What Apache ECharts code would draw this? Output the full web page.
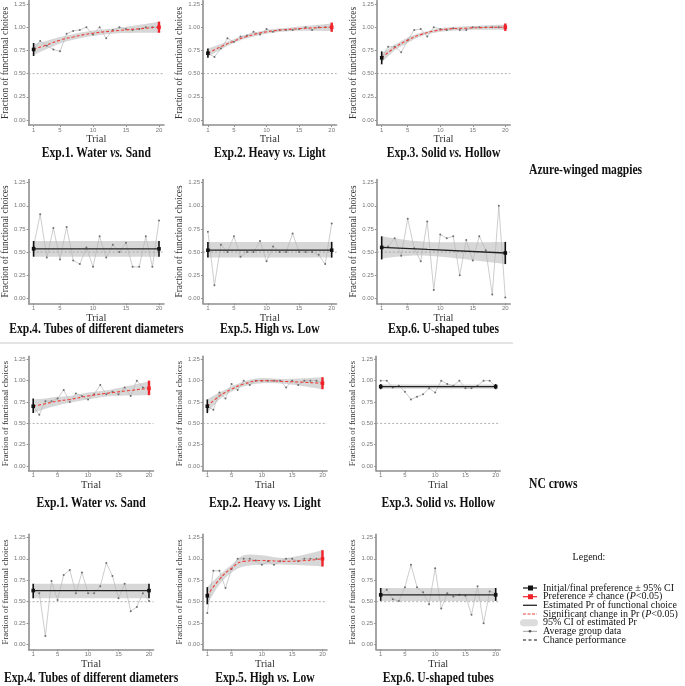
<!DOCTYPE html>
<html><head><meta charset="utf-8">
<script src="https://cdn.jsdelivr.net/npm/echarts@6/dist/echarts.min.js"></script>
<style>html,body{margin:0;padding:0;background:#fff}#c{width:685px;height:686px}</style>
</head><body><div id="c"></div>
<script>
const trials = [1,2,3,4,5,6,7,8,9,10,11,12,13,14,15,16,17,18,19,20];
const xTicks = [1,5,10,15,20];
const yTicks = [0,0.25,0.5,0.75,1,1.25];
const chance = 0.5;

// Average group data (fraction of functional choices per trial)
const m1Data = [0.76,0.85,0.80,0.76,0.74,0.93,0.96,0.97,1.0,0.92,1.0,0.88,0.97,1.0,0.98,0.97,0.98,1.0,1.0,1.0];
const m2Data = [0.72,0.68,0.77,0.88,0.84,0.90,0.91,0.95,0.92,0.98,0.95,0.97,0.97,0.97,0.98,1.0,0.97,1.0,1.0,1.0];
const m3Data = [0.67,0.79,0.79,0.73,0.86,0.97,0.98,0.90,1.0,0.98,0.97,0.99,0.97,0.97,1.0,1.0,1.0,1.0,1.0,1.0];
const m4Data = [0.56,0.91,0.44,0.76,0.42,0.77,0.41,0.37,0.55,0.34,0.67,0.44,0.58,0.50,0.60,0.34,0.34,0.67,0.34,0.84];
const m5Data = [0.72,0.14,0.58,0.50,0.67,0.45,0.50,0.50,0.62,0.40,0.56,0.50,0.50,0.70,0.50,0.50,0.50,0.47,0.37,0.81];
const m6Data = [0.55,0.56,0.65,0.46,0.86,0.54,0.40,0.83,0.09,0.69,0.65,0.67,0.25,0.63,0.41,0.67,0.52,0.04,1.0,0.01];
const c1Data = [0.70,0.60,0.76,0.76,0.79,0.89,0.75,0.85,0.82,0.78,0.84,0.95,0.84,0.87,0.84,0.92,0.82,1.0,0.92,0.92];
const c2Data = [0.70,0.66,0.86,0.79,0.96,0.89,1.0,0.95,1.0,1.0,1.0,1.0,1.0,0.92,1.0,0.95,1.0,1.0,1.0,0.97];
const c3Data = [1.0,1.0,0.92,0.94,0.87,0.78,0.81,0.84,0.91,0.86,1.0,0.96,0.94,1.0,0.91,0.91,0.94,1.0,1.0,0.93];
const c4Data = [0.63,0.60,0.10,0.74,0.52,0.81,0.87,0.60,0.84,0.60,0.60,0.68,0.95,0.80,0.54,0.71,0.39,0.44,0.60,0.51];
const c5Data = [0.37,0.86,0.86,0.66,0.88,1.0,1.0,1.0,0.98,0.93,0.97,0.93,0.97,1.0,1.0,0.97,1.0,1.0,1.0,1.0];
const c6Data = [0.58,0.64,0.53,0.51,0.67,0.93,0.67,0.61,0.47,0.89,0.42,0.60,0.56,0.58,0.57,0.35,0.68,0.25,0.62,0.60];

// Estimated Pr (fit) and its 95% CI, read at knot trials
const curveX = [1,3,5,7,10,14,20];
const flatX = [1,20];
const m1Fit = [0.76,0.81,0.86,0.895,0.935,0.965,1.0];
const m1Lo  = [0.70,0.765,0.825,0.865,0.905,0.935,0.94];
const m1Hi  = [0.82,0.855,0.895,0.925,0.965,0.995,1.06];
const m2Fit = [0.72,0.79,0.85,0.90,0.95,0.98,1.0];
const m2Lo  = [0.68,0.76,0.83,0.88,0.93,0.96,0.96];
const m2Hi  = [0.77,0.82,0.87,0.92,0.97,1.0,1.04];
const m3Fit = [0.67,0.78,0.86,0.92,0.97,0.99,1.0];
const m3Lo  = [0.62,0.75,0.83,0.90,0.95,0.97,0.97];
const m3Hi  = [0.72,0.81,0.89,0.94,0.99,1.01,1.03];
const m4Fit = [0.535,0.535]; const m4Lo = [0.45,0.45]; const m4Hi = [0.62,0.62];
const m5Fit = [0.52,0.52];   const m5Lo = [0.44,0.44]; const m5Hi = [0.61,0.61];
const m6X   = [1,8,20];
const m6Fit = [0.55,0.53,0.49]; const m6Lo = [0.43,0.46,0.37]; const m6Hi = [0.67,0.61,0.61];
const c1Fit = [0.70,0.73,0.76,0.78,0.82,0.86,0.91];
const c1Lo  = [0.62,0.67,0.71,0.74,0.78,0.82,0.83];
const c1Hi  = [0.78,0.79,0.81,0.82,0.86,0.90,0.99];
const c2Fit = [0.70,0.82,0.90,0.96,1.0,0.99,0.97];
const c2Lo  = [0.62,0.78,0.87,0.93,0.97,0.96,0.90];
const c2Hi  = [0.78,0.86,0.93,0.99,1.03,1.02,1.04];
const c3Fit = [0.93,0.93]; const c3Lo = [0.905,0.905]; const c3Hi = [0.955,0.955];
const c4Fit = [0.63,0.63]; const c4Lo = [0.54,0.54];   const c4Hi = [0.71,0.71];
const c5Fit = [0.57,0.76,0.89,0.97,0.98,0.97,1.0];
const c5Lo  = [0.47,0.70,0.84,0.91,0.93,0.93,0.91];
const c5Hi  = [0.67,0.81,0.93,1.04,1.04,1.01,1.10];
const c6Fit = [0.58,0.58]; const c6Lo = [0.51,0.51]; const c6Hi = [0.66,0.66];

// Initial / final preference: [trial, value, ciLow, ciHigh, significant(1=red)]
const m1Pref = [[1,0.76,0.69,0.83,0],[20,1.0,0.94,1.06,1]];
const m2Pref = [[1,0.72,0.67,0.77,0],[20,1.0,0.95,1.05,1]];
const m3Pref = [[1,0.67,0.60,0.74,0],[20,1.0,0.96,1.04,1]];
const m4Pref = [[1,0.535,0.45,0.62,0],[20,0.535,0.45,0.62,0]];
const m5Pref = [[1,0.52,0.44,0.61,0],[20,0.52,0.44,0.61,0]];
const m6Pref = [[1,0.55,0.42,0.67,0],[20,0.49,0.37,0.61,0]];
const c1Pref = [[1,0.70,0.62,0.79,0],[20,0.91,0.83,1.0,1]];
const c2Pref = [[1,0.70,0.62,0.78,0],[20,0.97,0.90,1.04,1]];
const c3Pref = [[1,0.93,0.90,0.96,0],[20,0.93,0.90,0.96,0]];
const c4Pref = [[1,0.63,0.54,0.71,0],[20,0.63,0.54,0.71,0]];
const c5Pref = [[1,0.57,0.47,0.67,0],[20,1.0,0.91,1.10,1]];
const c6Pref = [[1,0.58,0.51,0.66,0],[20,0.58,0.51,0.66,0]];

const titles = [
  ['Exp.1. Water ','vs.',' Sand'],['Exp.2. Heavy ','vs.',' Light'],['Exp.3. Solid ','vs.',' Hollow'],
  ['Exp.4. Tubes of different diameters','',''],['Exp.5. High ','vs.',' Low'],['Exp.6. U-shaped tubes','','']
];

const panels = [
  {d:m1Data,x:curveX,f:m1Fit,lo:m1Lo,hi:m1Hi,p:m1Pref,sig:1,t:titles[0]},
  {d:m2Data,x:curveX,f:m2Fit,lo:m2Lo,hi:m2Hi,p:m2Pref,sig:1,t:titles[1]},
  {d:m3Data,x:curveX,f:m3Fit,lo:m3Lo,hi:m3Hi,p:m3Pref,sig:1,t:titles[2]},
  {d:m4Data,x:flatX,f:m4Fit,lo:m4Lo,hi:m4Hi,p:m4Pref,sig:0,t:titles[3]},
  {d:m5Data,x:flatX,f:m5Fit,lo:m5Lo,hi:m5Hi,p:m5Pref,sig:0,t:titles[4]},
  {d:m6Data,x:m6X,f:m6Fit,lo:m6Lo,hi:m6Hi,p:m6Pref,sig:0,t:titles[5]},
  {d:c1Data,x:curveX,f:c1Fit,lo:c1Lo,hi:c1Hi,p:c1Pref,sig:1,t:titles[0]},
  {d:c2Data,x:curveX,f:c2Fit,lo:c2Lo,hi:c2Hi,p:c2Pref,sig:1,t:titles[1]},
  {d:c3Data,x:flatX,f:c3Fit,lo:c3Lo,hi:c3Hi,p:c3Pref,sig:0,t:titles[2]},
  {d:c4Data,x:flatX,f:c4Fit,lo:c4Lo,hi:c4Hi,p:c4Pref,sig:0,t:titles[3]},
  {d:c5Data,x:curveX,f:c5Fit,lo:c5Lo,hi:c5Hi,p:c5Pref,sig:1,t:titles[4]},
  {d:c6Data,x:flatX,f:c6Fit,lo:c6Lo,hi:c6Hi,p:c6Pref,sig:0,t:titles[5]}
];

// layout: pixel position of trial 1 / trial 20, y=1.25 / y=0, title centre y
const colA = [[33.6,159],[207.9,331.7],[381.7,505.3]];
const colB = [[33.2,149],[207.3,322.5],[380.7,495.7]];
const rows = [
  {y125:4, y0:120, ty:153, nameSize:9.4, nameGap:15, trialGap:6},
  {y125:182.7, y0:298.3, ty:329, nameSize:9.4, nameGap:15, trialGap:6},
  {y125:359.3, y0:466, ty:503, nameSize:8.8, nameGap:13, trialGap:5},
  {y125:537.3, y0:644.7, ty:678, nameSize:8.8, nameGap:13, trialGap:5}
];
const XMIN = 0.25, XMAX = 20.75, YMIN = -0.055, YMAX = 1.285;
const SERIF = '"Liberation Serif","Times New Roman",serif';

// smooth path through pixel points (Catmull-Rom -> cubic Bezier), render helper only
function curvePath(pts) {
  let s = '';
  const n = pts.length;
  for (let i = 0; i < n - 1; i++) {
    const p0 = pts[Math.max(i - 1, 0)], p1 = pts[i], p2 = pts[i + 1], p3 = pts[Math.min(i + 2, n - 1)];
    const c1 = [p1[0] + (p2[0] - p0[0]) / 6, p1[1] + (p2[1] - p0[1]) / 6];
    const c2 = [p2[0] - (p3[0] - p1[0]) / 6, p2[1] - (p3[1] - p1[1]) / 6];
    s += ' C' + c1[0] + ',' + c1[1] + ' ' + c2[0] + ',' + c2[1] + ' ' + p2[0] + ',' + p2[1];
  }
  return s;
}

const grids = [], xAxes = [], yAxes = [], series = [], graphics = [];
panels.forEach((P, i) => {
  const r = rows[Math.floor(i / 3)];
  const col = (i < 6 ? colA : colB)[i % 3];
  const ppx = (col[1] - col[0]) / 19;
  const ppy = (r.y0 - r.y125) / 1.25;
  const left = col[0] - (1 - XMIN) * ppx;
  const width = (XMAX - XMIN) * ppx;
  const top = r.y125 - (YMAX - 1.25) * ppy;
  const height = (YMAX - YMIN) * ppy;
  grids.push({left: left, top: top, width: width, height: height});
  xAxes.push({
    type:'value', gridIndex:i, min:XMIN, max:XMAX,
    name:'Trial', nameLocation:'middle', nameGap:r.trialGap,
    nameTextStyle:{fontFamily:SERIF, fontSize:10.5, color:'#333'},
    axisLine:{onZero:false, lineStyle:{color:'#8f8f8f', width:1.6}},
    axisTick:{show:true, length:2, customValues:xTicks, lineStyle:{color:'#8f8f8f'}},
    axisLabel:{customValues:xTicks, fontSize:6, color:'#777', margin:2, fontFamily:'"Liberation Sans",Arial'},
    splitLine:{show:false}
  });
  yAxes.push({
    type:'value', gridIndex:i, min:YMIN, max:YMAX,
    name:'Fraction of functional choices', nameLocation:'middle', nameGap:r.nameGap,
    nameTextStyle:{fontFamily:SERIF, fontSize:r.nameSize, color:'#333'},
    axisLine:{show:true, onZero:false, lineStyle:{color:'#8f8f8f', width:1.6}},
    axisTick:{show:true, length:2, customValues:yTicks, lineStyle:{color:'#8f8f8f'}},
    axisLabel:{customValues:yTicks, fontSize:6, color:'#777', margin:3, fontFamily:'"Liberation Sans",Arial',
      formatter: v => v.toFixed(2)},
    splitLine:{show:false}
  });
  const ax = {xAxisIndex:i, yAxisIndex:i, silent:true, animation:false};
  // CI band
  series.push(Object.assign({type:'custom', z:1,
    data:P.x.map((x,k)=>[x,P.lo[k],P.hi[k]]), encode:{x:0, y:[1,2]},
    renderItem:(params, api) => {
      if (params.dataIndex !== 0) return null;
      const up = P.x.map((x,k)=>api.coord([x,P.hi[k]]));
      const dn = P.x.map((x,k)=>api.coord([x,P.lo[k]])).reverse();
      const d = 'M' + up[0][0] + ',' + up[0][1] + curvePath(up) +
                ' L' + dn[0][0] + ',' + dn[0][1] + curvePath(dn) + ' Z';
      return {type:'path', shape:{pathData:d}, style:{fill:'rgba(150,150,150,0.38)', stroke:null}};
    }}, ax));
  // chance line
  series.push(Object.assign({type:'line', symbol:'none',
    lineStyle:{color:'#9a9a9a', width:0.8, type:[2,2]},
    data:[[XMIN,chance],[XMAX,chance]], z:2}, ax));
  // average group data
  series.push(Object.assign({type:'line', symbol:'circle', symbolSize:2,
    itemStyle:{color:'#6f6f6f'}, lineStyle:{color:'#b8b8b8', width:0.7},
    data:trials.map((t,k)=>[t,P.d[k]]), z:3}, ax));
  // estimated Pr
  series.push(Object.assign({type:'line', symbol:'none', smooth:true,
    lineStyle: P.sig ? {color:'#f0413a', width:1.1, type:[3,2]} : {color:'#222', width:1.3},
    data:P.x.map((x,k)=>[x,P.f[k]]), z:4}, ax));
  // initial/final preference with CI
  series.push(Object.assign({type:'custom', data:P.p, z:5,
    encode:{x:0, y:1},
    renderItem:(params, api) => {
      const t = api.value(0), v = api.value(1), lo = api.value(2), hi = api.value(3);
      const red = api.value(4) === 1;
      const c = red ? '#f0232a' : '#111';
      const a = api.coord([t, lo]), b = api.coord([t, hi]), m = api.coord([t, v]);
      return {type:'group', children:[
        {type:'line', shape:{x1:a[0], y1:a[1], x2:b[0], y2:b[1]}, style:{stroke:c, lineWidth: red ? 2.4 : 1.6}},
        {type:'rect', shape:{x:m[0]-1.8, y:m[1]-1.8, width:3.6, height:3.6}, style:{fill:c}}
      ]};
    }}, ax));
  // title
  const rich = {
    b:{fontFamily:SERIF, fontWeight:'bold', fontSize:14, fill:'#111'},
    i:{fontFamily:SERIF, fontWeight:'bold', fontStyle:'italic', fontSize:14, fill:'#111'}
  };
  let txt = '{b|' + P.t[0] + '}';
  if (P.t[1]) txt += '{i|' + P.t[1] + '}{b|' + P.t[2] + '}';
  graphics.push({type:'text', x:left + width/2, y:r.ty, scaleX:0.83,
    style:{text:txt, rich:rich, align:'center', verticalAlign:'middle'}});
});

// group labels
const boldFont = 'bold 14px ' + SERIF;
graphics.push({type:'text', x:529, y:170, scaleX:0.83, style:{text:'Azure-winged magpies', font:boldFont, fill:'#111', align:'left', verticalAlign:'middle'}});
graphics.push({type:'text', x:529, y:484, scaleX:0.83, style:{text:'NC crows', font:boldFont, fill:'#111', align:'left', verticalAlign:'middle'}});
// separator
graphics.push({type:'rect', shape:{x:0, y:342, width:513, height:2}, style:{fill:'#e4e4e4'}});

// legend
const legFont = '10px ' + SERIF;
graphics.push({type:'text', x:589, y:557, style:{text:'Legend:', font:legFont, fill:'#111', align:'center', verticalAlign:'middle'}});
const legY = [588, 596.7, 605.3, 614, 622.7, 631.3, 640];
const legRich = {n:{fontFamily:SERIF, fontSize:10, fill:'#111'}, i:{fontFamily:SERIF, fontSize:10, fontStyle:'italic', fill:'#111'}};
const legTexts = [
  '{n|Initial/final preference ± 95% CI}',
  '{n|Preference ≠ chance (}{i|P}{n|<0.05)}',
  '{n|Estimated Pr of functional choice}',
  '{n|Significant change in Pr (}{i|P}{n|<0.05)}',
  '{n|95% CI of estimated Pr}',
  '{n|Average group data}',
  '{n|Chance performance}'
];
legTexts.forEach((t, k) => {
  graphics.push({type:'text', x:543, y:legY[k], style:{text:t, rich:legRich, align:'left', verticalAlign:'middle'}});
});
const L0 = 523, L1 = 537;
graphics.push({type:'line', shape:{x1:L0,y1:legY[0],x2:L1,y2:legY[0]}, style:{stroke:'#111', lineWidth:1.2}});
graphics.push({type:'rect', shape:{x:528,y:legY[0]-2.5,width:5,height:5}, style:{fill:'#111'}});
graphics.push({type:'line', shape:{x1:L0,y1:legY[1],x2:L1,y2:legY[1]}, style:{stroke:'#f0232a', lineWidth:1.2}});
graphics.push({type:'rect', shape:{x:528,y:legY[1]-2.5,width:5,height:5}, style:{fill:'#f0232a'}});
graphics.push({type:'line', shape:{x1:L0,y1:legY[2],x2:L1,y2:legY[2]}, style:{stroke:'#333', lineWidth:1.4}});
graphics.push({type:'line', shape:{x1:L0,y1:legY[3],x2:L1,y2:legY[3]}, style:{stroke:'#f0413a', lineWidth:1.2, lineDash:[3,1.5]}});
graphics.push({type:'rect', shape:{x:520,y:legY[4]-3.5,width:18,height:7,r:3.5}, style:{fill:'#dcdcdc'}});
graphics.push({type:'line', shape:{x1:L0,y1:legY[5],x2:L1,y2:legY[5]}, style:{stroke:'#888', lineWidth:0.8}});
graphics.push({type:'circle', shape:{cx:530,cy:legY[5],r:1.3}, style:{fill:'#555'}});
graphics.push({type:'line', shape:{x1:L0,y1:legY[6],x2:L1,y2:legY[6]}, style:{stroke:'#111', lineWidth:1.1, lineDash:[3,2.5]}});

const chart = echarts.init(document.getElementById('c'), null, {renderer:'canvas'});
chart.setOption({
  animation:false,
  backgroundColor:'#fff',
  grid:grids, xAxis:xAxes, yAxis:yAxes, series:series, graphic:graphics
});
</script></body></html>
